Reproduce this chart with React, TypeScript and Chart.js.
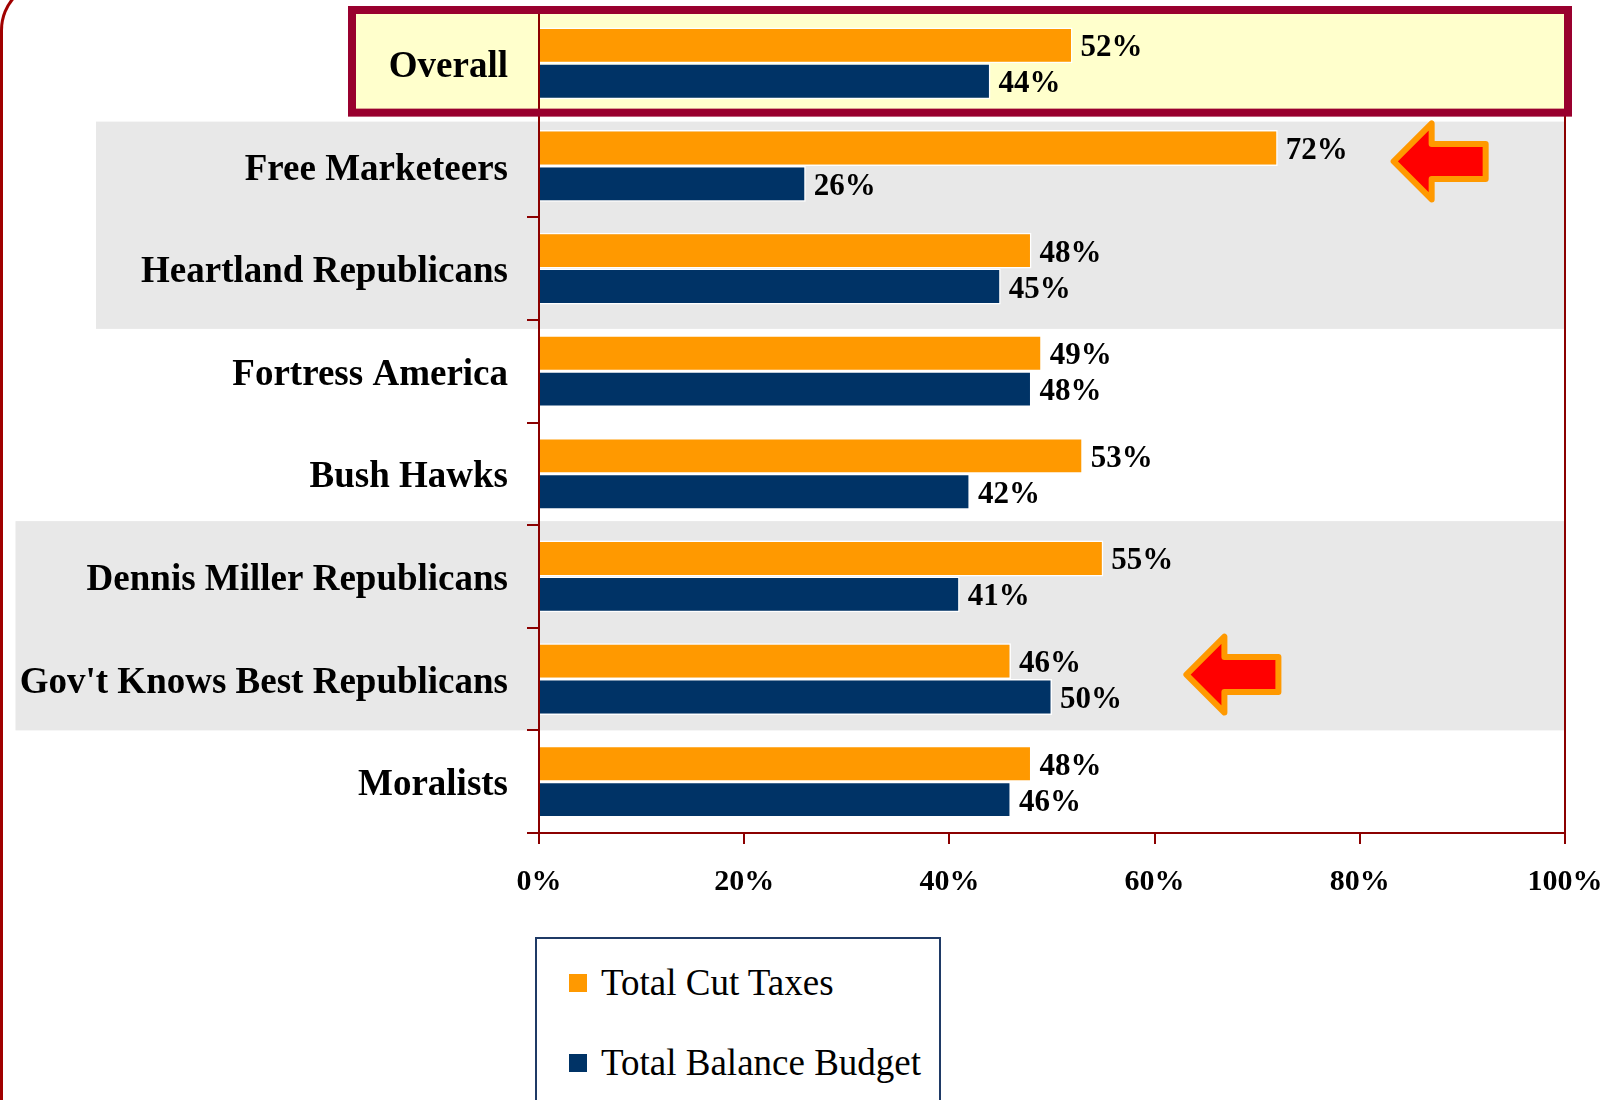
import React, { useEffect, useRef } from "react";
import { Chart, registerables } from "chart.js";

Chart.register(...registerables);

// ---------- data ----------
const categories = [
  "Overall",
  "Free Marketeers",
  "Heartland Republicans",
  "Fortress America",
  "Bush Hawks",
  "Dennis Miller Republicans",
  "Gov't Knows Best Republicans",
  "Moralists",
];
const cutTaxes = [52, 72, 48, 49, 53, 55, 46, 48];
const balanceBudget = [44, 26, 45, 48, 42, 41, 50, 46];
const seriesLabels = ["Total Cut Taxes", "Total Balance Budget"];
const seriesColors = ["#FF9900", "#003366"];
const xTickValues = [0, 20, 40, 60, 80, 100];

// highlighted groups (shaded bands) and arrow call-outs
const highlightedCategory = "Overall";
const shadedGroups = [
  ["Free Marketeers", "Heartland Republicans"],
  ["Dennis Miller Republicans", "Gov't Knows Best Republicans"],
];
const arrowCallouts = [
  { category: "Free Marketeers", value: 83.3 },
  { category: "Gov't Knows Best Republicans", value: 63.1 },
];

const SERIF = "'Liberation Serif', 'Times New Roman', serif";
const AXIS_RED = "#8B0000";

const decorPlugin = {
  id: "decor",
  beforeDraw(chart: any) {
    const { ctx, chartArea, scales } = chart;
    const y = scales.y;
    const step = y.getPixelForValue(1) - y.getPixelForValue(0);
    const bound = (i: number) => y.getPixelForValue(i) - step / 2;
    ctx.save();
    ctx.fillStyle = "#FFFFFF";
    ctx.fillRect(0, 0, chart.width, chart.height);

    // shaded bands
    const bandLefts = [96, 15.5];
    const bandOffsets = [
      [7, 9],
      [-4, 0],
    ];
    shadedGroups.forEach((g, k) => {
      const i0 = categories.indexOf(g[0]);
      const i1 = categories.indexOf(g[g.length - 1]);
      const top = bound(i0) + bandOffsets[k][0];
      const bottom = bound(i1 + 1) + bandOffsets[k][1];
      ctx.fillStyle = "#E8E8E8";
      ctx.fillRect(bandLefts[k], top, chartArea.right - bandLefts[k], bottom - top);
    });

    // highlighted box fill
    const hi = categories.indexOf(highlightedCategory);
    const hTop = bound(hi) - 2;
    const hBottom = bound(hi + 1) - 2;
    ctx.fillStyle = "#FFFFCC";
    ctx.fillRect(352, hTop, chartArea.right + 3 - 352, hBottom - hTop);
    ctx.restore();
  },
  beforeDatasetsDraw(chart: any) {
    const { ctx, chartArea, scales } = chart;
    const y = scales.y;
    const step = y.getPixelForValue(1) - y.getPixelForValue(0);
    const bound = (i: number) => y.getPixelForValue(i) - step / 2;
    ctx.save();
    // right border of plot
    ctx.strokeStyle = AXIS_RED;
    ctx.lineWidth = 2;
    ctx.beginPath();
    ctx.moveTo(chartArea.right, chartArea.top);
    ctx.lineTo(chartArea.right, chartArea.bottom);
    ctx.stroke();
    // highlighted box border
    const hi = categories.indexOf(highlightedCategory);
    const hTop = bound(hi) - 2;
    const hBottom = bound(hi + 1) - 2;
    ctx.strokeStyle = "#99002E";
    ctx.lineWidth = 8;
    ctx.strokeRect(352, hTop, chartArea.right + 3 - 352, hBottom - hTop);
    ctx.restore();
  },
  afterDatasetsDraw(chart: any) {
    const { ctx, scales } = chart;
    const x = scales.x;
    const y = scales.y;
    ctx.save();
    // value labels
    ctx.font = `bold 31px ${SERIF}`;
    ctx.fillStyle = "#000";
    ctx.textAlign = "left";
    ctx.textBaseline = "middle";
    chart.data.datasets.forEach((ds: any, di: number) => {
      const meta = chart.getDatasetMeta(di);
      meta.data.forEach((el: any, i: number) => {
        ctx.fillText(`${ds.data[i]}%`, el.x + 8, el.y + 3);
      });
    });
    // arrows
    arrowCallouts.forEach((a) => {
      const tx = x.getPixelForValue(a.value);
      const cy = y.getPixelForValue(categories.indexOf(a.category)) - 4.5;
      const headW = 38;
      const headH = 38;
      const shaftH = 17.5;
      const len = 92;
      ctx.beginPath();
      ctx.moveTo(tx, cy);
      ctx.lineTo(tx + headW, cy - headH);
      ctx.lineTo(tx + headW, cy - shaftH);
      ctx.lineTo(tx + len, cy - shaftH);
      ctx.lineTo(tx + len, cy + shaftH);
      ctx.lineTo(tx + headW, cy + shaftH);
      ctx.lineTo(tx + headW, cy + headH);
      ctx.closePath();
      ctx.fillStyle = "#FF0000";
      ctx.fill();
      ctx.lineWidth = 6;
      ctx.lineJoin = "round";
      ctx.strokeStyle = "#FF9900";
      ctx.stroke();
    });
    ctx.restore();
  },
};

export default function App() {
  const canvasRef = useRef<HTMLCanvasElement | null>(null);

  useEffect(() => {
    document.body.style.margin = "0";
    const canvas = canvasRef.current;
    if (!canvas) return;
    const chart = new Chart(canvas, {
      type: "bar",
      data: {
        labels: categories,
        datasets: [
          {
            label: seriesLabels[0],
            data: cutTaxes,
            backgroundColor: seriesColors[0],
            borderColor: "#FFFFFF",
            borderWidth: 1.5,
            categoryPercentage: 0.7,
            barPercentage: 1,
          },
          {
            label: seriesLabels[1],
            data: balanceBudget,
            backgroundColor: seriesColors[1],
            borderColor: "#FFFFFF",
            borderWidth: 1.5,
            categoryPercentage: 0.7,
            barPercentage: 1,
          },
        ],
      },
      options: {
        indexAxis: "y",
        animation: false,
        responsive: false,
        maintainAspectRatio: false,
        layout: { padding: { top: 12, right: 54, left: 0, bottom: 0 } },
        plugins: {
          legend: { display: false },
          tooltip: { enabled: false },
        },
        scales: {
          x: {
            min: 0,
            max: 100,
            afterBuildTicks: (s: any) => {
              s.ticks = xTickValues.map((v) => ({ value: v }));
            },
            afterFit: (s: any) => {
              s.height = 267;
              s.paddingLeft = 0;
              s.paddingRight = 0;
            },
            ticks: {
              callback: (v: any) => `${v}%`,
              font: { family: SERIF, weight: "bold", size: 30 },
              color: "#000",
              padding: 20,
              maxRotation: 0,
              autoSkip: false,
            },
            grid: {
              drawOnChartArea: false,
              drawTicks: true,
              tickLength: 11,
              color: AXIS_RED,
              lineWidth: 2,
            },
            border: { color: AXIS_RED, width: 2 },
          },
          y: {
            z: 1,
            afterFit: (s: any) => {
              s.width = 539;
              s.paddingTop = 0;
              s.paddingBottom = 0;
            },
            ticks: {
              font: { family: SERIF, weight: "bold", size: 37 },
              color: "#000",
              padding: 19,
              labelOffset: 4,
              autoSkip: false,
            },
            grid: {
              drawOnChartArea: false,
              drawTicks: true,
              tickLength: 12,
              offset: true,
              color: AXIS_RED,
              lineWidth: 2,
            },
            border: { color: AXIS_RED, width: 2 },
          },
        },
      } as any,
      plugins: [decorPlugin],
    });
    return () => chart.destroy();
  }, []);

  return (
    <div
      style={{
        position: "fixed",
        left: 0,
        top: 0,
        width: 1619,
        height: 1100,
        overflow: "hidden",
        background: "#FFFFFF",
      }}
    >
      <canvas
        ref={canvasRef}
        width={1619}
        height={1100}
        style={{ position: "absolute", left: 0, top: 0, width: 1619, height: 1100 }}
      />
      {/* slide frame edge */}
      <div
        style={{
          position: "absolute",
          left: 0,
          top: -20,
          width: 2000,
          height: 2000,
          borderLeft: "3px solid #A00000",
          borderTop: "3px solid #A00000",
          borderTopLeftRadius: 50,
          boxSizing: "border-box",
          pointerEvents: "none",
        }}
      />
      {/* legend */}
      <div
        style={{
          position: "absolute",
          left: 535,
          top: 937,
          width: 406,
          height: 220,
          border: "2px solid #1F3A66",
          boxSizing: "border-box",
          background: "#FFFFFF",
        }}
      >
        {seriesLabels.map((lab, i) => (
          <div
            key={lab}
            style={{
              position: "absolute",
              left: 32,
              top: 24 + i * 80,
              height: 40,
              display: "flex",
              alignItems: "center",
              whiteSpace: "nowrap",
            }}
          >
            <span
              style={{
                display: "inline-block",
                width: 18,
                height: 18,
                background: seriesColors[i],
                marginRight: 14,
              }}
            />
            <span
              style={{
                fontFamily: SERIF,
                fontSize: 37,
                color: "#000",
                lineHeight: "40px",
              }}
            >
              {lab}
            </span>
          </div>
        ))}
      </div>
    </div>
  );
}
